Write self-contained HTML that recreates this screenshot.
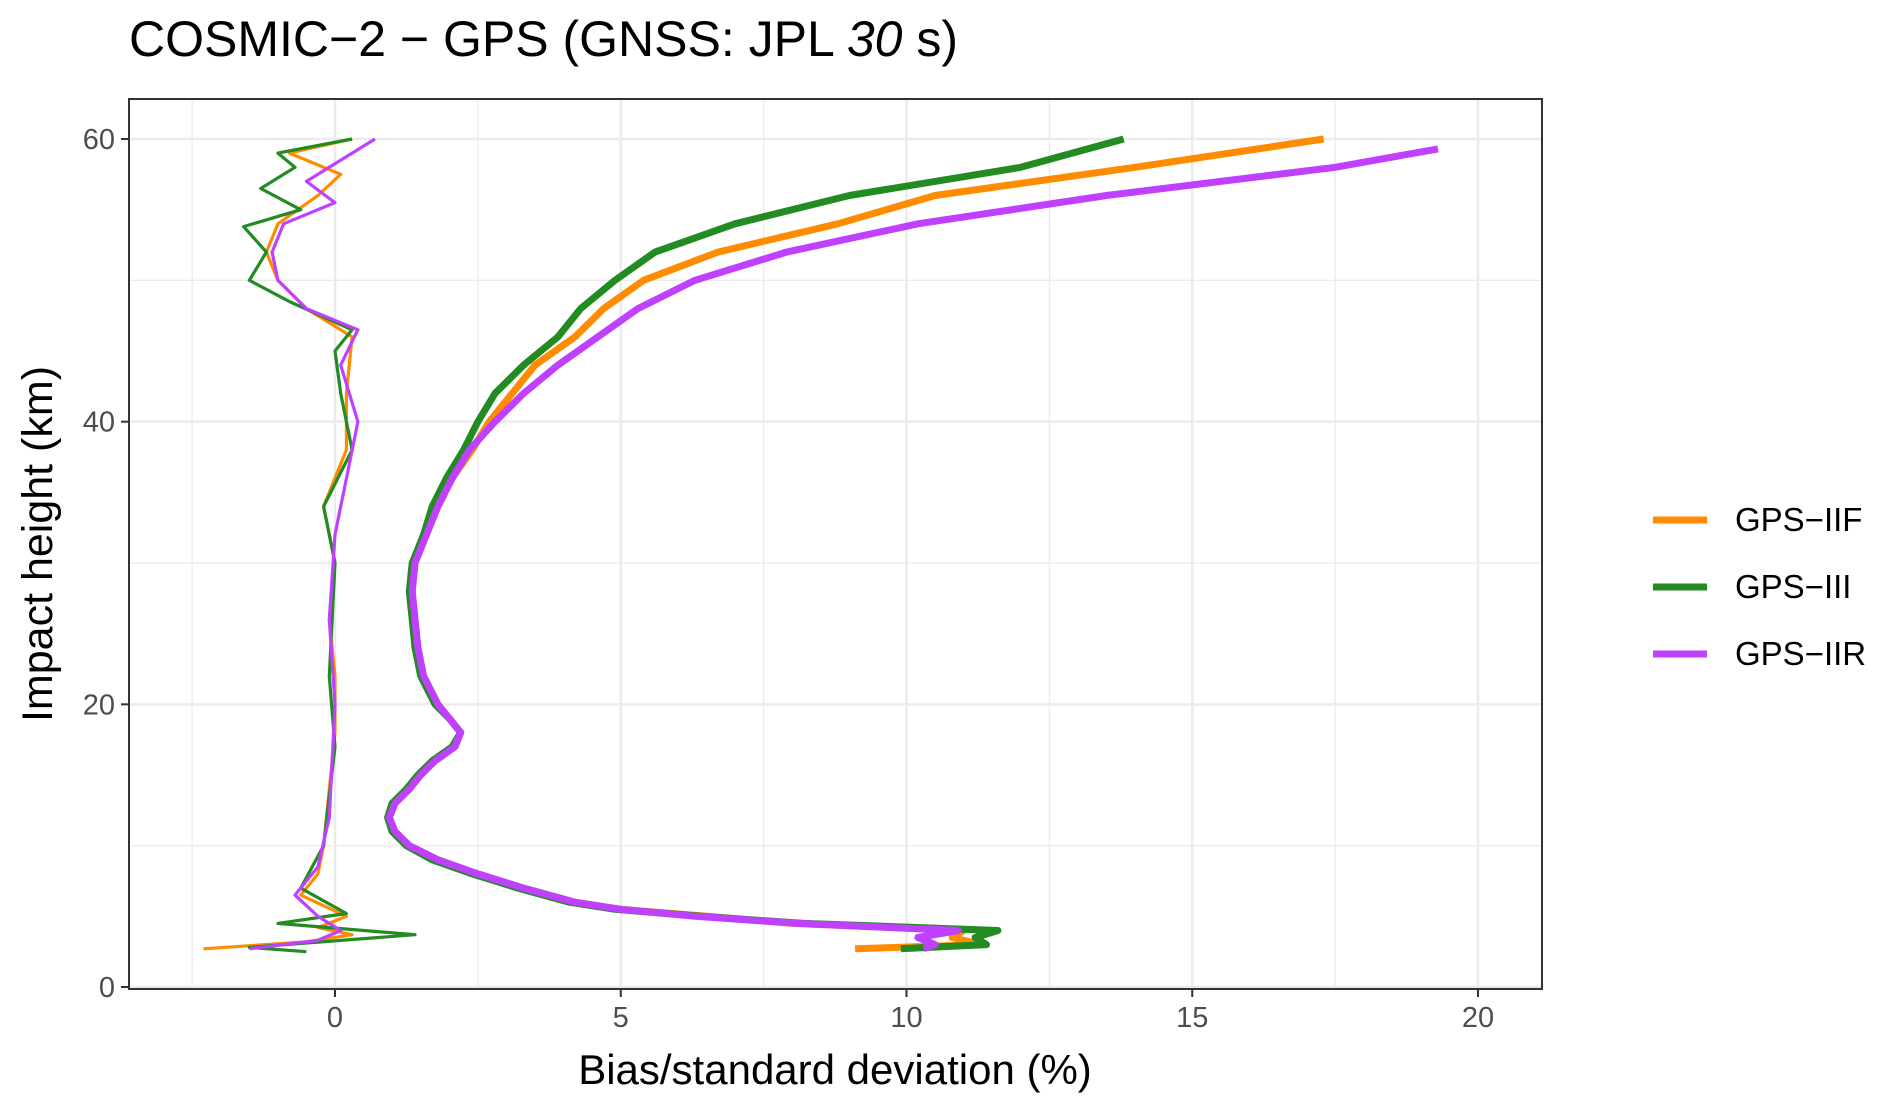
<!DOCTYPE html>
<html><head><meta charset="utf-8"><style>
body{margin:0;background:#fff;}
svg text{font-family:"Liberation Sans",Arial,sans-serif;}
</style></head><body>
<svg id="chart" width="1892" height="1113" xmlns="http://www.w3.org/2000/svg">
<text x="129" y="56" font-size="50" fill="#000">COSMIC−2 − GPS (GNSS: JPL <tspan font-style="italic">30</tspan> s)</text>
<g id="grid"></g>
<g id="series"></g>
<rect x="129" y="99" width="1413" height="890" fill="none" stroke="#333" stroke-width="2"/>
<g id="axes"></g>
<text x="835" y="1084" font-size="42" text-anchor="middle">Bias/standard deviation (%)</text>
<text transform="translate(52,544) rotate(-90)" font-size="43" text-anchor="middle">Impact height (km)</text>
<g id="legend"></g>
</svg>
<script>
const xTicks=[0,5,10,15,20];
const yTicks=[0,20,40,60];
const seriesNames=["GPS−IIF","GPS−III","GPS−IIR"];
const seriesColors=["#ff8c00","#228b22","#bf40ff"];
const stdH=[2.7,3,3.5,4,4.5,5,5.5,6,7,8,9,10,11,12,13,14,15,16,17,18,19,20,22,24,26,28,30,32,34,36,38,40,42,44,46,48,50,52,54,56,58,60];
const stdIIF=[9.1,11.3,10.8,11,8,6.5,5,4.2,3.3,2.5,1.8,1.3,1.05,0.95,1.05,1.3,1.5,1.75,2.1,2.2,2.0,1.8,1.55,1.45,1.4,1.35,1.4,1.6,1.8,2.05,2.4,2.7,3.1,3.5,4.2,4.7,5.4,6.7,8.8,10.5,14,17.3];
const stdIII=[9.9,11.4,11.2,11.6,8.2,6.4,4.9,4.1,3.2,2.4,1.7,1.25,1.0,0.92,1.0,1.25,1.45,1.7,2.05,2.2,2.0,1.75,1.5,1.4,1.35,1.3,1.35,1.55,1.7,1.95,2.25,2.5,2.8,3.3,3.9,4.3,4.9,5.6,7.0,9.0,12.0,13.8];
const stdIIRh=[2.7,3,3.5,4,4.5,5,5.5,6,7,8,9,10,11,12,13,14,15,16,17,18,19,20,22,24,26,28,30,32,34,36,38,40,42,44,46,48,50,52,54,56,58,59.3];
const stdIIR=[10.3,10.5,10.2,10.9,8.1,6.3,5,4.2,3.3,2.5,1.8,1.3,1.05,0.95,1.05,1.3,1.5,1.75,2.1,2.2,2.0,1.8,1.55,1.45,1.4,1.35,1.4,1.6,1.8,2.05,2.35,2.8,3.3,3.9,4.6,5.3,6.3,7.9,10.2,13.5,17.5,19.3];
const biasIIFh=[2.7,3.2,3.7,4.2,5,6.5,8,10,14,18,22,26,30,34,38,42,46,48,50,52,54,56,57.5,59,60];
const biasIIF=[-2.3,-0.5,0.3,-0.3,0.2,-0.6,-0.3,-0.2,-0.1,0,0,-0.1,0,-0.2,0.2,0.2,0.3,-0.5,-1,-1.2,-1,-0.3,0.1,-0.8,0.3];
const biasIIIh=[2.5,2.8,3.7,4.5,5.2,7,10,17,22,30,34,38,42,45,46.5,48.5,50,52,53.8,55,56.5,58,59,60];
const biasIII=[-0.5,-1.5,1.4,-1,0.2,-0.6,-0.2,0,-0.1,0,-0.2,0.3,0.1,0,0.3,-0.8,-1.5,-1.2,-1.6,-0.6,-1.3,-0.7,-1,0.3];
const biasIIRh=[2.7,3.3,4,5,6.5,8.5,12,20,26,32,40,44,46.5,48,50,52,54,55.5,57,60];
const biasIIR=[-1.5,-0.3,0.1,-0.3,-0.7,-0.3,-0.1,0,-0.1,0,0.4,0.1,0.4,-0.5,-1,-1.1,-0.9,0,-0.5,0.7];

const X=v=>335+v*(1478-335)/20;
const Y=v=>987-v*(987-139)/60;
const NS="http://www.w3.org/2000/svg";
function mk(tag,attrs,parent){const e=document.createElementNS(NS,tag);for(const k in attrs)e.setAttribute(k,attrs[k]);parent.appendChild(e);return e;}
const grid=document.getElementById('grid'),axes=document.getElementById('axes'),ser=document.getElementById('series'),leg=document.getElementById('legend');
for(let v=-2.5;v<=20;v+=2.5){const g=mk('line',{x1:X(v),x2:X(v),y1:99,y2:989,stroke:'#ebebeb','stroke-width':(v%5===0)?2.5:1.3},grid);

}
for(let v=0;v<=60;v+=10){const g=mk('line',{y1:Y(v),y2:Y(v),x1:129,x2:1542,stroke:'#ebebeb','stroke-width':(v%20===0)?2.5:1.3},grid);

}
xTicks.forEach(v=>{const t=mk('line',{x1:X(v),x2:X(v),y1:989,y2:997,stroke:'#333','stroke-width':2},axes);


const l=mk('text',{x:X(v),y:1027,'font-size':29,fill:'#4d4d4d','text-anchor':'middle'},axes);l.textContent=v;

});
yTicks.forEach(v=>{const t=mk('line',{x1:121,x2:129,y1:Y(v),y2:Y(v),stroke:'#333','stroke-width':2},axes);


const l=mk('text',{x:115,y:Y(v)+10,'font-size':29,fill:'#4d4d4d','text-anchor':'end'},axes);l.textContent=v;

});
function line(xs,hs,color,w,name){const d=xs.map((x,i)=>(i?'L':'M')+X(x).toFixed(1)+','+Y(hs[i]).toFixed(1)).join('');
const p=mk('path',{d:d,fill:'none',stroke:color,'stroke-width':w,'stroke-linejoin':'round'},ser);

}
line(biasIIF,biasIIFh,seriesColors[0],3.2,'bias-line-gps-iif');
line(biasIII,biasIIIh,seriesColors[1],3.2,'bias-line-gps-iii');
line(biasIIR,biasIIRh,seriesColors[2],3.2,'bias-line-gps-iir');
line(stdIIF,stdH,seriesColors[0],7,'std-line-gps-iif');
line(stdIII,stdH,seriesColors[1],7,'std-line-gps-iii');
line(stdIIR,stdIIRh,seriesColors[2],7,'std-line-gps-iir');
seriesNames.forEach((n,i)=>{const y=520+i*67;
const k=mk('line',{x1:1653,x2:1707,y1:y,y2:y,stroke:seriesColors[i],'stroke-width':7},leg);


const t=mk('text',{x:1735,y:y+11,'font-size':33,fill:'#000'},leg);t.textContent=n;

});
</script>
</body></html>
